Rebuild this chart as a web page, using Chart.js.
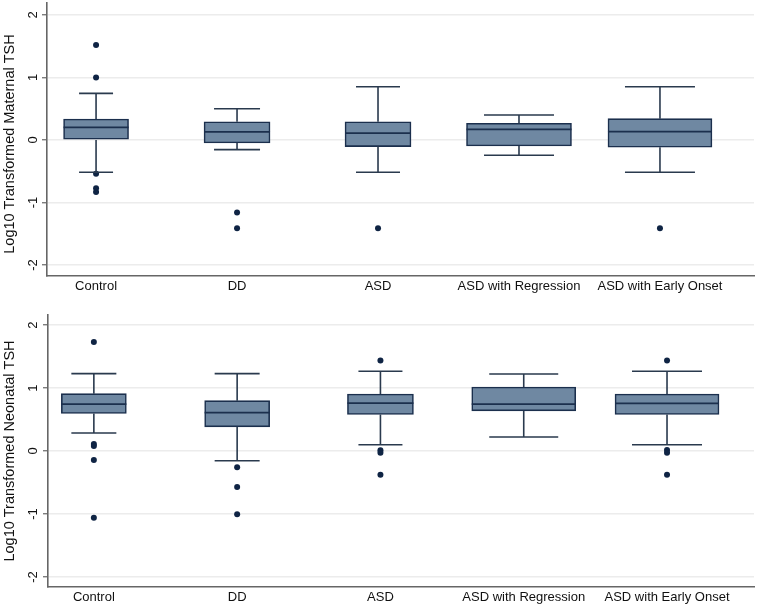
<!DOCTYPE html>
<html>
<head>
<meta charset="utf-8">
<script src="https://cdn.jsdelivr.net/npm/chart.js@4.4.1/dist/chart.umd.min.js"></script>
<style>
  html, body { margin: 0; padding: 0; background: #ffffff; }
  body { width: 766px; height: 607px; position: relative; overflow: hidden; }
  .wrap { position: absolute; left: 0; width: 766px; }
  canvas { display: block; }
</style>
</head>
<body>
<div class="wrap" style="top:0;height:300px;"><canvas id="top" width="766" height="300"></canvas></div>
<div class="wrap" style="top:300px;height:307px;"><canvas id="bottom" width="766" height="307"></canvas></div>
<script>
// ---------------- DATA ----------------
const categories = ['Control', 'DD', 'ASD', 'ASD with Regression', 'ASD with Early Onset'];
const yTickValues = [-2, -1, 0, 1, 2];

// Log10 transformed maternal TSH
const maternalWhiskerLow  = [-0.515, -0.154, -0.515, -0.245, -0.515];
const maternalQ1          = [ 0.000, -0.048, -0.106, -0.096, -0.117];
const maternalMedian      = [ 0.200,  0.128,  0.110,  0.170,  0.133];
const maternalQ3          = [ 0.335,  0.290,  0.290,  0.266,  0.340];
const maternalWhiskerHigh = [ 0.745,  0.500,  0.850,  0.400,  0.850];
const maternalOutliers = [
  [1.52, 1.00, -0.54, -0.77, -0.83],
  [-1.16, -1.41],
  [-1.41],
  [],
  [-1.41]
];

// Log10 transformed neonatal TSH
const neonatalWhiskerLow  = [0.287, -0.154, 0.100, 0.223, 0.100];
const neonatalQ1          = [0.596,  0.383, 0.580, 0.638, 0.580];
const neonatalMedian      = [0.745,  0.610, 0.760, 0.745, 0.755];
const neonatalQ3          = [0.910,  0.800, 0.904, 1.016, 0.904];
const neonatalWhiskerHigh = [1.229,  1.229, 1.266, 1.223, 1.266];
const neonatalOutliers = [
  [1.73, 0.112, 0.08, -0.144, -1.06],
  [-0.26, -0.57, -1.005],
  [1.436, 0.01, -0.027, -0.378],
  [],
  [1.436, 0.016, -0.027, -0.378]
];

// ---------------- STYLE ----------------
const FONT = '"Liberation Sans", Arial, Helvetica, sans-serif';
const BOX_FILL = '#6f88a2';
const BOX_EDGE = '#1b2f4d';
const WHISKER = '#2a3a4e';
const DOT = '#0f2444';
const GRID = '#ececec';
const AXIS = '#666666';

const boxPlotPlugin = {
  id: 'boxPlot',
  afterDatasetsDraw(chart, args, opts) {
    const { ctx } = chart;
    const x = chart.scales.x, y = chart.scales.y;
    ctx.save();
    ctx.beginPath();
    ctx.rect(chart.chartArea.left, chart.chartArea.top, chart.chartArea.right - chart.chartArea.left, chart.chartArea.bottom - chart.chartArea.top);
    ctx.clip();
    for (let i = 0; i < opts.median.length; i++) {
      const cx = x.getPixelForValue(i);
      const halfBox = opts.boxWidths[i] / 2;
      const halfCap = opts.capWidths[i] / 2;
      const pLow = y.getPixelForValue(opts.low[i]);
      const pQ1 = y.getPixelForValue(opts.q1[i]);
      const pQ3 = y.getPixelForValue(opts.q3[i]);
      const pHigh = y.getPixelForValue(opts.high[i]);
      const pMed = y.getPixelForValue(opts.median[i]);
      ctx.strokeStyle = WHISKER;
      ctx.lineWidth = 1.6;
      ctx.beginPath();
      ctx.moveTo(cx, pQ3); ctx.lineTo(cx, pHigh);
      ctx.moveTo(cx - halfCap, pHigh); ctx.lineTo(cx + halfCap, pHigh);
      ctx.moveTo(cx, pQ1); ctx.lineTo(cx, pLow);
      ctx.moveTo(cx - halfCap, pLow); ctx.lineTo(cx + halfCap, pLow);
      ctx.stroke();
      ctx.strokeStyle = BOX_EDGE;
      ctx.lineWidth = 1.8;
      ctx.beginPath();
      ctx.moveTo(cx - halfBox, pMed); ctx.lineTo(cx + halfBox, pMed);
      ctx.stroke();
    }
    ctx.restore();
  },
  afterDraw(chart, args, opts) {
    const { ctx } = chart;
    const y = chart.scales.y;
    ctx.save();
    ctx.fillStyle = '#111111';
    ctx.textAlign = 'center';
    ctx.textBaseline = 'middle';
    ctx.font = '13px ' + FONT;
    y.ticks.forEach(t => {
      const py = y.getPixelForValue(t.value);
      ctx.save();
      ctx.translate(opts.tickLabelX, py);
      ctx.rotate(-Math.PI / 2);
      ctx.fillText(String(t.value), 0, 0);
      ctx.restore();
    });
    ctx.font = '14.5px ' + FONT;
    ctx.save();
    ctx.translate(opts.titleX, opts.titleY);
    ctx.rotate(-Math.PI / 2);
    ctx.fillText(opts.title, 0, 0);
    ctx.restore();
    ctx.restore();
  }
};

function makeChart(id, d, L) {
  const datasets = [];
  for (let i = 0; i < categories.length; i++) {
    datasets.push({
      type: 'bar',
      label: categories[i],
      data: [{ x: i, y: [d.q1[i], d.q3[i]] }],
      backgroundColor: BOX_FILL,
      borderColor: BOX_EDGE,
      borderWidth: 1.6,
      borderSkipped: false,
      barThickness: L.boxWidths[i],
      grouped: false,
      order: 2
    });
  }
  const pts = [];
  d.outliers.forEach((arr, i) => arr.forEach(v => pts.push({ x: i, y: v })));
  datasets.push({
    type: 'scatter',
    label: 'outliers',
    data: pts,
    pointRadius: 3,
    pointHoverRadius: 3,
    pointBackgroundColor: DOT,
    pointBorderColor: DOT,
    pointBorderWidth: 0,
    showLine: false,
    order: 1
  });

  return new Chart(document.getElementById(id), {
    type: 'bar',
    data: { datasets },
    plugins: [boxPlotPlugin],
    options: {
      responsive: false,
      animation: false,
      events: [],
      layout: { padding: { left: 0, right: L.padRight, top: L.padTop, bottom: 0 } },
      plugins: {
        legend: { display: false },
        tooltip: { enabled: false },
        title: { display: false },
        boxPlot: {
          low: d.low, q1: d.q1, median: d.median, q3: d.q3, high: d.high,
          boxWidths: L.boxWidths, capWidths: L.capWidths,
          title: d.title, titleX: L.titleX, titleY: L.titleY, tickLabelX: L.tickLabelX
        }
      },
      scales: {
        x: {
          type: 'linear',
          offset: false,
          min: L.xMin,
          max: L.xMax,
          afterBuildTicks(scale) { scale.ticks = categories.map((c, i) => ({ value: i })); },
          afterFit(scale) { scale.height = L.xHeight; },
          ticks: {
            autoSkip: false,
            maxRotation: 0,
            minRotation: 0,
            padding: 3,
            color: '#111111',
            font: { family: FONT, size: 13 },
            callback: (v) => categories[v]
          },
          grid: { display: false, drawTicks: false, offset: false },
          border: { display: true, color: AXIS, width: 1.6 }
        },
        y: {
          type: 'linear',
          min: L.yMin,
          max: L.yMax,
          afterBuildTicks(scale) { scale.ticks = yTickValues.map(v => ({ value: v })); },
          afterFit(scale) { scale.width = L.yWidth; },
          ticks: { display: false },
          grid: {
            display: true,
            color: GRID,
            lineWidth: 1.5,
            drawTicks: true,
            tickLength: 5,
            tickColor: AXIS,
            tickWidth: 1.2
          },
          border: { display: true, color: AXIS, width: 1.6 }
        }
      }
    }
  });
}

makeChart('top', {
  low: maternalWhiskerLow, q1: maternalQ1, median: maternalMedian, q3: maternalQ3, high: maternalWhiskerHigh,
  outliers: maternalOutliers, title: 'Log10 Transformed Maternal TSH'
}, {
  xMin: -0.348, xMax: 4.667, yMin: -2.175, yMax: 2.19,
  padTop: 2, padRight: 12, yWidth: 47, xHeight: 24,
  boxWidths: [65, 66, 66, 105, 104], capWidths: [34, 46, 44, 70, 70],
  titleX: 10, titleY: 144, tickLabelX: 33.5
});

makeChart('bottom', {
  low: neonatalWhiskerLow, q1: neonatalQ1, median: neonatalMedian, q3: neonatalQ3, high: neonatalWhiskerHigh,
  outliers: neonatalOutliers, title: 'Log10 Transformed Neonatal TSH'
}, {
  xMin: -0.32, xMax: 4.607, yMin: -2.16, yMax: 2.16,
  padTop: 15, padRight: 12, yWidth: 48, xHeight: 20,
  boxWidths: [65, 65, 66, 104, 104], capWidths: [45, 45, 44, 69, 70],
  titleX: 10, titleY: 151, tickLabelX: 33.5
});
</script>
</body>
</html>
